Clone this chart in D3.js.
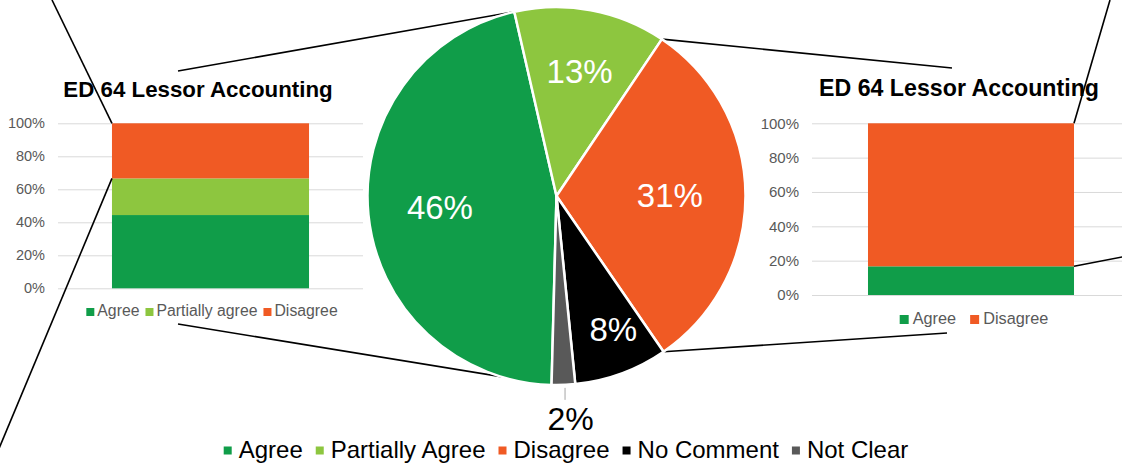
<!DOCTYPE html>
<html>
<head>
<meta charset="utf-8">
<script src="https://cdn.jsdelivr.net/npm/d3@7"></script>
<style>
  html, body { margin: 0; padding: 0; background: #ffffff; }
  svg { display: block; font-family: "Liberation Sans", Arial, sans-serif; }
</style>
</head>
<body>
<svg id="chart" width="1122" height="464"></svg>
<script>
// ---- Data ----
const pieCategories = ["Agree", "Partially Agree", "Disagree", "No Comment", "Not Clear"];
const pieValues = [46, 13, 31, 8, 2];
const pieColors = ["#109D49", "#8DC63F", "#F05A24", "#000000", "#595959"];

const chartTitle = "ED 64 Lessor Accounting";
const yTickValues = [0, 20, 40, 60, 80, 100];

// Breakdown of the "Agree" slice
const leftCategories = ["Agree", "Partially agree", "Disagree"];
const leftValues = [44.4, 22.2, 33.4];
const leftColors = ["#109D49", "#8DC63F", "#F05A24"];

// Breakdown of the "Disagree" slice
const rightCategories = ["Agree", "Disagree"];
const rightValues = [16.7, 83.3];
const rightColors = ["#109D49", "#F05A24"];

const svg = d3.select("#chart");
const axisGrey = "#595959";
const gridGrey = "#D9D9D9";

// ---- Stacked 100% column chart ----
function stackedColumn(cfg) {
  const g = svg.append("g");
  const y = d3.scaleLinear().domain([0, 100]).range([cfg.y0, cfg.y1]);
  const x = d3.scaleBand().domain(["bar"]).range([cfg.x0, cfg.x1]).padding(cfg.pad);

  // gridlines + tick labels
  const yAxis = d3.axisLeft(y).tickValues(yTickValues)
    .tickSize(-(cfg.x1 - cfg.x0)).tickPadding(cfg.labelGap)
    .tickFormat(d => d + "%");
  const ax = g.append("g").attr("transform", `translate(${cfg.x0},0)`).call(yAxis);
  ax.select(".domain").remove();
  ax.selectAll(".tick line").attr("stroke", gridGrey).attr("stroke-width", 1);
  ax.selectAll(".tick text").attr("fill", axisGrey)
    .attr("font-size", cfg.tickFont).attr("font-family", "Liberation Sans, Arial, sans-serif");

  // stacked segments
  let acc = 0;
  const segs = cfg.values.map((v, i) => {
    const s = { lo: acc, hi: acc + v, color: cfg.colors[i] };
    acc += v;
    return s;
  });
  g.selectAll("rect.seg").data(segs).join("rect")
    .attr("class", "seg")
    .attr("x", x("bar"))
    .attr("width", x.bandwidth())
    .attr("y", d => y(d.hi))
    .attr("height", d => y(d.lo) - y(d.hi))
    .attr("fill", d => d.color);

  // title
  g.append("text")
    .attr("x", cfg.titleX).attr("y", cfg.titleY)
    .attr("text-anchor", "middle")
    .attr("font-size", cfg.titleFont).attr("font-weight", "bold")
    .attr("fill", "#000")
    .text(chartTitle);

  // legend
  const lg = g.append("g");
  let cx = 0;
  cfg.categories.forEach((c, i) => {
    lg.append("rect").attr("x", cx).attr("y", -cfg.mark).attr("width", cfg.mark).attr("height", cfg.mark)
      .attr("fill", cfg.colors[i]);
    cx += cfg.mark + cfg.markGap;
    const t = lg.append("text").attr("x", cx).attr("y", 0)
      .attr("font-size", cfg.legendFont).attr("fill", axisGrey).text(c);
    cx += t.node().getComputedTextLength() + cfg.itemGap;
  });
  const lw = cx - cfg.itemGap;
  lg.attr("transform", `translate(${cfg.legendCX - lw / 2},${cfg.legendY})`);

  return {
    left: x("bar"),
    right: x("bar") + x.bandwidth(),
    y: y,
    values: cfg.values
  };
}

const leftChart = stackedColumn({
  x0: 58, x1: 363, y0: 288.3, y1: 123.3, pad: 0.215,
  values: leftValues, colors: leftColors, categories: leftCategories,
  labelGap: 13, tickFont: 14.5,
  titleX: 198, titleY: 97, titleFont: 22.3,
  legendCX: 212, legendY: 316, legendFont: 15.8, mark: 8, markGap: 3, itemGap: 6
});

const rightChart = stackedColumn({
  x0: 812, x1: 1130, y0: 295, y1: 123.3, pad: 0.2137,
  values: rightValues, colors: rightColors, categories: rightCategories,
  labelGap: 13, tickFont: 15,
  titleX: 959, titleY: 96, titleFont: 23.2,
  legendCX: 974, legendY: 324, legendFont: 16.3, mark: 9, markGap: 4, itemGap: 14
});

// ---- Pie ----
const cx = 556.5, cy = 196, R = 189;
const startAngle = 181.5 * Math.PI / 180;
const pie = d3.pie().sort(null).value(d => d)
  .startAngle(startAngle).endAngle(startAngle + 2 * Math.PI);
const arcs = pie(pieValues);
const arc = d3.arc().innerRadius(0).outerRadius(R);
const onCircle = (a, r) => [cx + r * Math.sin(a), cy - r * Math.cos(a)];

// connector lines (drawn under the pie)
const lineG = svg.append("g").attr("stroke", "#000").attr("stroke-width", 1.6).attr("fill", "none");
const agreeArc = arcs[0], disagreeArc = arcs[2];
const connectors = [
  // pie "Agree" slice edges to the left chart frame
  [onCircle(agreeArc.endAngle, R), [178, 71]],
  [onCircle(agreeArc.startAngle, R), [178, 324]],
  // pie "Disagree" slice edges to the right chart frame
  [onCircle(disagreeArc.startAngle, R), [952, 68]],
  [onCircle(disagreeArc.endAngle, R), [947, 333]],
  // callout lines leaving the column charts
  [[leftChart.left, leftChart.y(100)], [52, 0]],
  [[leftChart.left, leftChart.y(leftValues[0] + leftValues[1])], [-10, 470]],
  [[rightChart.right, rightChart.y(100)], [1110, 0]],
  [[rightChart.right, rightChart.y(rightValues[0])], [1130, 255.5]]
];
lineG.selectAll("line").data(connectors).join("line")
  .attr("x1", d => d[0][0]).attr("y1", d => d[0][1])
  .attr("x2", d => d[1][0]).attr("y2", d => d[1][1]);

const pg = svg.append("g").attr("transform", `translate(${cx},${cy})`);
pg.selectAll("path").data(arcs).join("path")
  .attr("d", arc)
  .attr("fill", (d, i) => pieColors[i])
  .attr("stroke", "#ffffff").attr("stroke-width", 2.5).attr("stroke-linejoin", "round");

// inside labels (radius factor and small angular nudge per slice)
const labelRadius = [0.62, 0.67, 0.6, 0.77];
const labelNudge = [0, 0, 0, -0.05];
arcs.slice(0, 4).forEach((d, i) => {
  const mid = (d.startAngle + d.endAngle) / 2 + labelNudge[i];
  const r = R * labelRadius[i];
  pg.append("text")
    .attr("x", r * Math.sin(mid)).attr("y", -r * Math.cos(mid))
    .attr("text-anchor", "middle").attr("dominant-baseline", "central")
    .attr("font-size", 33).attr("fill", "#ffffff")
    .text(d.data + "%");
});

// small slice label outside with leader
const nc = arcs[4];
const ncMid = (nc.startAngle + nc.endAngle) / 2;
const lp = onCircle(ncMid, R + 3);
svg.append("line")
  .attr("x1", lp[0] + 1.5).attr("y1", lp[1])
  .attr("x2", lp[0] + 1.5).attr("y2", lp[1] + 12)
  .attr("stroke", "#A6A6A6").attr("stroke-width", 1);
svg.append("text")
  .attr("x", lp[0] + 7).attr("y", 430)
  .attr("text-anchor", "middle")
  .attr("font-size", 32).attr("fill", "#000")
  .text(nc.data + "%");

// ---- Bottom legend ----
const leg = svg.append("g");
let lx = 0;
pieCategories.forEach((c, i) => {
  leg.append("rect").attr("x", lx).attr("y", -11.5).attr("width", 8).attr("height", 8).attr("fill", pieColors[i]);
  lx += 8 + 7;
  const t = leg.append("text").attr("x", lx).attr("y", 0)
    .attr("font-size", 24).attr("fill", "#000").text(c);
  lx += t.node().getComputedTextLength() + 13;
});
const legW = lx - 13;
leg.attr("transform", `translate(${566 - legW / 2},458)`);
</script>
</body>
</html>
